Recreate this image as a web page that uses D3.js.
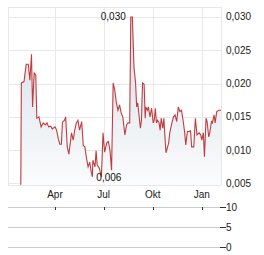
<!DOCTYPE html>
<html>
<head>
<meta charset="utf-8">
<script src="https://cdn.jsdelivr.net/npm/d3@7"></script>
<style>
  html, body { margin: 0; padding: 0; background: #fff; }
  svg { display: block; font-family: "Liberation Sans", Arial, sans-serif; }
</style>
</head>
<body>
<div id="chart"></div>
<script>
// price series (date, value)
const dates = [
  "2020-01-28","2020-01-29","2020-02-03","2020-02-07","2020-02-11","2020-02-14","2020-02-17","2020-02-19",
  "2020-02-22","2020-02-25","2020-02-27","2020-03-02","2020-03-06","2020-03-10","2020-03-14","2020-03-17",
  "2020-03-20","2020-03-24","2020-03-27","2020-04-01","2020-04-04","2020-04-07","2020-04-10","2020-04-13",
  "2020-04-15","2020-04-19","2020-04-21","2020-04-24","2020-04-27","2020-05-02","2020-05-05","2020-05-08",
  "2020-05-11","2020-05-14","2020-05-17","2020-05-21","2020-05-24","2020-05-27","2020-05-30","2020-06-02",
  "2020-06-05","2020-06-08","2020-06-10","2020-06-11","2020-06-15","2020-06-17","2020-06-19","2020-06-23",
  "2020-06-27","2020-06-30","2020-07-03","2020-07-07","2020-07-10","2020-07-13","2020-07-16","2020-07-19",
  "2020-07-22","2020-07-25","2020-07-28","2020-07-31","2020-08-03","2020-08-06","2020-08-10","2020-08-13",
  "2020-08-16","2020-08-19","2020-08-21","2020-08-24","2020-08-27","2020-08-30","2020-09-01","2020-09-03",
  "2020-09-05","2020-09-08","2020-09-10","2020-09-12","2020-09-15","2020-09-17","2020-09-18","2020-09-21",
  "2020-09-23","2020-09-26","2020-09-29","2020-10-02","2020-10-04","2020-10-06","2020-10-08","2020-10-10",
  "2020-10-13","2020-10-15","2020-10-17","2020-10-20","2020-10-22","2020-10-24","2020-10-26","2020-10-29",
  "2020-10-31","2020-11-02","2020-11-06","2020-11-09","2020-11-12","2020-11-15","2020-11-18","2020-11-21",
  "2020-11-24","2020-11-27","2020-11-30","2020-12-02","2020-12-05","2020-12-08","2020-12-11","2020-12-13",
  "2020-12-17","2020-12-20","2020-12-23","2020-12-27","2020-12-30","2021-01-01","2021-01-04","2021-01-06",
  "2021-01-09","2021-01-11","2021-01-14","2021-01-16","2021-01-19","2021-01-21","2021-01-24","2021-01-26",
  "2021-01-29","2021-02-02","2021-02-06"
];
const prices = [
  0.0048,0.0201,0.0203,0.0229,0.0229,0.0205,0.0244,0.0165,
  0.0216,0.0213,0.0148,0.0150,0.0135,0.0141,0.0138,0.0141,
  0.0135,0.0136,0.0132,0.0135,0.0130,0.0118,0.0109,0.0109,
  0.0142,0.0145,0.0150,0.0105,0.0094,0.0126,0.0115,0.0130,
  0.0141,0.0145,0.0130,0.0143,0.0107,0.0105,0.0088,0.0075,
  0.0082,0.0067,0.0060,0.0085,0.0075,0.0099,0.0078,0.0073,
  0.0060,0.0126,0.0097,0.0111,0.0113,0.0100,0.0070,0.0201,
  0.0190,0.0171,0.0160,0.0168,0.0156,0.0150,0.0123,0.0138,
  0.0141,0.0141,0.0300,0.0300,0.0225,0.0201,0.0165,0.0171,
  0.0156,0.0133,0.0145,0.0201,0.0199,0.0148,0.0165,0.0160,
  0.0165,0.0150,0.0163,0.0141,0.0145,0.0163,0.0141,0.0145,
  0.0141,0.0130,0.0148,0.0133,0.0148,0.0120,0.0096,0.0105,
  0.0111,0.0126,0.0141,0.0150,0.0153,0.0143,0.0165,0.0158,
  0.0160,0.0145,0.0126,0.0108,0.0128,0.0128,0.0129,0.0105,
  0.0105,0.0148,0.0123,0.0126,0.0123,0.0115,0.0126,0.0090,
  0.0148,0.0143,0.0120,0.0126,0.0143,0.0141,0.0153,0.0141,
  0.0158,0.0160,0.0160
];
const monthTicks = ["2020-04-01", "2020-07-01", "2020-10-01", "2021-01-01"];
const monthLabels = ["Apr", "Jul", "Okt", "Jan"];
const priceTicks = [0.005, 0.010, 0.015, 0.020, 0.025, 0.030];
const volumeTicks = [0, 5, 10];
const maxLabel = "0,030";
const minLabel = "0,006";

const width = 264, height = 255;
const parse = d3.timeParse("%Y-%m-%d");
const data = dates.map((d, i) => ({ date: parse(d), value: prices[i] }));

const svg = d3.select("#chart").append("svg")
    .attr("width", width)
    .attr("height", height);

const x = d3.scaleTime()
    .domain([parse("2020-01-04"), parse("2021-02-06")])
    .range([8, 221]);
const y = d3.scaleLinear()
    .domain([0.00477, 0.0315])
    .range([185, 7]);
const yVol = d3.scaleLinear()
    .domain([0, 10])
    .range([247, 207]);

const fmt = v => d3.format(".3f")(v).replace(".", ",");

// gradient for area
const grad = svg.append("defs").append("linearGradient")
    .attr("id", "fade")
    .attr("gradientUnits", "userSpaceOnUse")
    .attr("x1", 0).attr("y1", y.range()[1])
    .attr("x2", 0).attr("y2", y.range()[0]);
grad.append("stop").attr("offset", "0%").attr("stop-color", "#d3dbe4");
grad.append("stop").attr("offset", "100%").attr("stop-color", "#fbfcfd");

// grid
const grid = svg.append("g").attr("stroke", "#e8e8e8").attr("stroke-width", 1).attr("shape-rendering", "crispEdges");
grid.selectAll(".h").data(priceTicks.concat([y.domain()[1]])).enter().append("line")
    .attr("x1", x.range()[0]).attr("x2", x.range()[1])
    .attr("y1", d => Math.round(y(d)) + 0.5).attr("y2", d => Math.round(y(d)) + 0.5);
grid.selectAll(".v").data(monthTicks.map(parse).concat(x.domain())).enter().append("line")
    .attr("y1", y.range()[1]).attr("y2", y.range()[0])
    .attr("x1", d => Math.round(x(d)) + 0.5).attr("x2", d => Math.round(x(d)) + 0.5);
grid.append("line")
    .attr("x1", x.range()[0]).attr("x2", x.range()[1])
    .attr("y1", 185.5).attr("y2", 185.5);

// area + line
const area = d3.area()
    .x(d => x(d.date))
    .y0(y.range()[0])
    .y1(d => y(d.value));
const line = d3.line()
    .x(d => x(d.date))
    .y(d => y(d.value));

svg.append("path").datum(data)
    .attr("d", area)
    .attr("fill", "url(#fade)");
svg.append("path").datum(data)
    .attr("d", line)
    .attr("fill", "none")
    .attr("stroke", "#c13c3f")
    .attr("stroke-width", 1.1)
    .attr("stroke-linejoin", "miter");

// price axis labels
svg.append("g").selectAll("text").data(priceTicks).enter().append("text")
    .attr("x", 226)
    .attr("y", d => y(d))
    .attr("dy", "0.35em")
    .attr("font-size", 10)
    .attr("fill", "#1a1a1a")
    .text(fmt);

// month labels
svg.append("g").selectAll("text").data(monthTicks).enter().append("text")
    .attr("x", d => x(parse(d)))
    .attr("y", 198)
    .attr("text-anchor", "middle")
    .attr("font-size", 10)
    .attr("fill", "#1a1a1a")
    .text((d, i) => monthLabels[i]);

// high / low markers (first point is the listing jump, skip it)
const traded = data.slice(1);
const hi = traded.reduce((a, b) => b.value > a.value ? b : a);
const lo = traded.reduce((a, b) => b.value < a.value ? b : a);
svg.append("text")
    .attr("x", x(hi.date) - 5)
    .attr("y", y(hi.value))
    .attr("dy", "0.35em")
    .attr("text-anchor", "end")
    .attr("font-size", 10)
    .attr("fill", "#111")
    .text(maxLabel);
svg.append("text")
    .attr("x", x(lo.date) + 4)
    .attr("y", y(lo.value) + 1)
    .attr("dy", "0.35em")
    .attr("font-size", 10)
    .attr("fill", "#111")
    .text(minLabel);

// volume panel
const vol = svg.append("g");
vol.selectAll("line.g").data(volumeTicks).enter().append("line")
    .attr("x1", x.range()[0]).attr("x2", 220)
    .attr("y1", d => Math.round(yVol(d)) + 0.5).attr("y2", d => Math.round(yVol(d)) + 0.5)
    .attr("stroke", "#cccccc").attr("shape-rendering", "crispEdges");
vol.selectAll("line.t").data(volumeTicks).enter().append("line")
    .attr("x1", 220).attr("x2", 226)
    .attr("y1", d => Math.round(yVol(d)) + 0.5).attr("y2", d => Math.round(yVol(d)) + 0.5)
    .attr("stroke", "#333").attr("shape-rendering", "crispEdges");
vol.selectAll("text").data(volumeTicks).enter().append("text")
    .attr("x", 226)
    .attr("y", d => yVol(d))
    .attr("dy", "0.35em")
    .attr("font-size", 10)
    .attr("fill", "#1a1a1a")
    .text(d => d);
vol.selectAll("line.m").data(monthTicks).enter().append("line")
    .attr("x1", d => Math.round(x(parse(d))) + 0.5).attr("x2", d => Math.round(x(parse(d))) + 0.5)
    .attr("y1", 207).attr("y2", 210)
    .attr("stroke", "#333").attr("shape-rendering", "crispEdges");
</script>
</body>
</html>
